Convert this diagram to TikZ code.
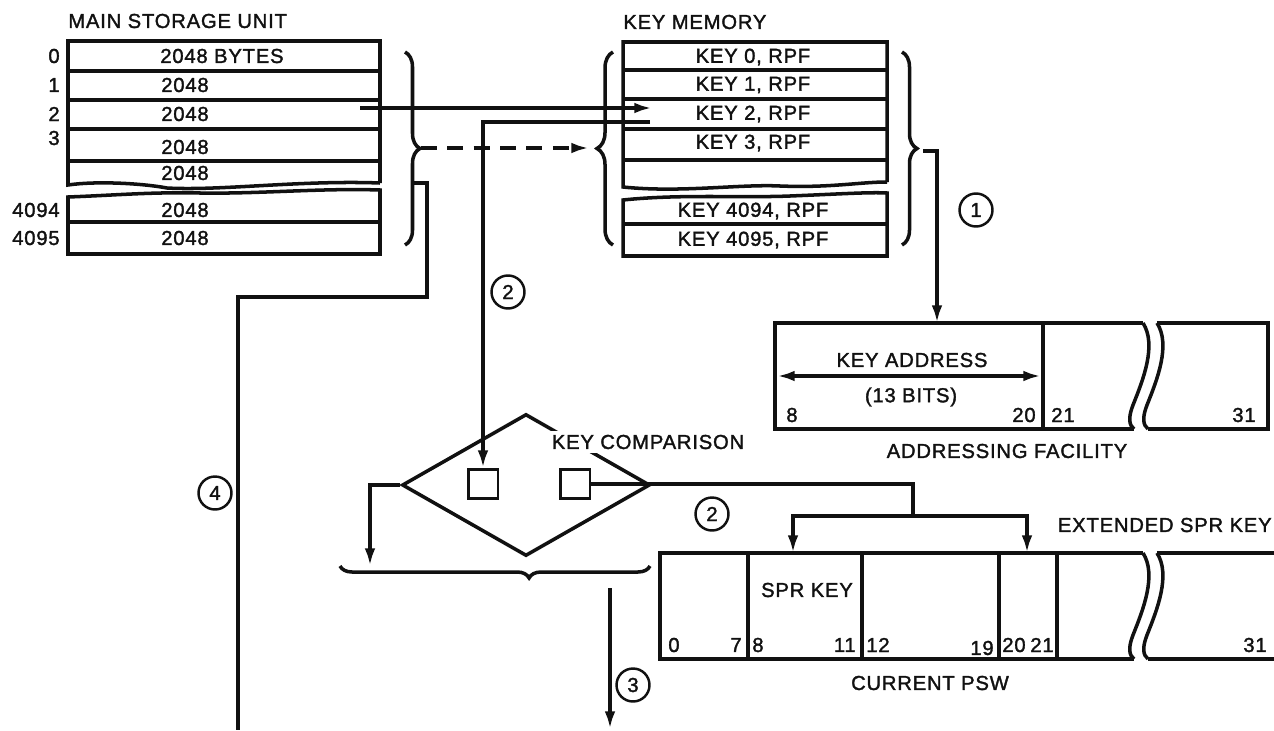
\documentclass[tikz,border=0pt]{standalone}
\usepackage{fontspec}
\setmainfont{Liberation Sans}[LetterSpace=4,FakeBold=1.6]
\usepackage{xcolor}
\usetikzlibrary{arrows.meta,shapes.geometric,decorations.pathreplacing}
\definecolor{SKInk}{HTML}{111111}

\begin{document}
\begin{tikzpicture}[x=0.02cm,y=-0.02cm,
  ln/.style={SKInk,line width=2pt},
  arr/.style={ln,-{Latex[length=10pt,width=6pt]}},
  txt/.style={font=\fontsize{11.5}{13}\selectfont,text=SKInk,inner sep=0pt},
  circ/.style={txt,draw=SKInk,circle,line width=1.4pt,minimum size=0.66cm},
  sq/.style={draw=SKInk,line width=1.7pt,minimum width=0.6cm,minimum height=0.58cm,inner sep=0pt},
  brc/.style={ln,decorate,decoration={brace,amplitude=#1}}]
\path[use as bounding box] (0,0) rectangle (1274,730);
% main storage unit
\node[txt,anchor=west] (msuT) at (68,21) {MAIN STORAGE UNIT};
\draw[ln] (380,183) -- (380,41) -- (68,41) -- (68,185) .. controls (95,181) and (140,183) .. (167,188) .. controls (220,191) and (300,180) .. (380,183);
\foreach \y in {71,100,129,161} \draw[ln] (68,\y) -- (380,\y);
\draw[ln] (68,197) .. controls (120,195) and (150,192) .. (200,193) .. controls (260,194) and (320,188) .. (380,190) -- (380,254) -- (68,254) -- cycle;
\draw[ln] (68,222) -- (380,222);
\node[txt] (m0) at (222,56) {2048 BYTES};
\foreach \n/\y in {1/85,2/114,3/147,4/173,4094/210,4095/238}
  \node[txt] (m\n) at (185,\y) {2048};
\foreach \n/\y in {0/56,1/85,2/114,3/138,4094/210,4095/238}
  \node[txt,anchor=east] (ml\n) at (60,\y) {\n};
% key memory
\node[txt,anchor=west] (kmT) at (623,22) {KEY MEMORY};
\draw[ln] (887,182) -- (887,42) -- (623,42) -- (623,187) .. controls (680,193) and (740,184) .. (780,186) .. controls (830,188) and (860,182) .. (887,182);
\foreach \y in {70,99,129,160} \draw[ln] (623,\y) -- (887,\y);
\draw[ln] (623,200) .. controls (680,194) and (740,198) .. (790,196) .. controls (840,194) and (870,192) .. (887,193) -- (887,256) -- (623,256) -- cycle;
\draw[ln] (623,224) -- (887,224);
\foreach \n/\y in {0/57,1/85,2/114,3/143,4094/211,4095/240}
  \node[txt] (k\n) at (753,\y) {KEY \n, RPF};
% braces
\draw[brc=0.3cm] (405,52) -- (405,245);
\draw[brc=0.32cm] (613,245) -- (613,52);
\draw[brc=0.3cm] (902,52) -- (902,245);
\coordinate (mbr) at (421,148);
\coordinate (kdash) at (589,148);
\coordinate (k1src) at (923,151);
% transfers
\coordinate (m2src) at (360,108);
\coordinate (k2dst) at (652,108);
\coordinate (k2src) at (650,122);
\draw[arr] (m2src) -- (k2dst);
\draw[ln,dashed,dash pattern=on 9pt off 6pt,-{Latex[length=10pt,width=6pt]}] (mbr) -- (kdash);
\coordinate (m4src) at (411,183);
\coordinate (out4) at (238,730);
\draw[ln] (m4src) -- (427,183) -- (427,297) -| (out4);
% key comparison
\node[draw=SKInk,line width=2pt,diamond,minimum width=4.96cm,minimum height=2.84cm,inner sep=0pt] (cmp) at (526,485) {};
\node[txt,anchor=west,fill=white,inner sep=2pt] (cmpT) at (548,442) {KEY COMPARISON};
\node[sq] (sqa) at (483,484) {};
\node[sq] (sqb) at (575,484) {};
\draw[arr] (k2src) -| (sqa.north);
\coordinate (brTgt) at (370,566);
\draw[arr] (cmp.west) -| (brTgt);
\draw[brc=0.24cm,decoration={aspect=0.39}] (650,566) -- (340,566);
\coordinate (c3src) at (610,588);
\coordinate (c3dst) at (610,729);
\draw[arr] (c3src) -- (c3dst);
\coordinate (split) at (913,516);
\coordinate (psw8) at (793,553);
\coordinate (psw20) at (1027,553);
\draw[ln] (sqb.east) -- (sqb.east -| split) -- (split);
\draw[arr] (split) -| (psw8);
\draw[arr] (split) -| (psw20);
% addressing facility
\coordinate (afTop) at (937,323);
\draw[arr] (k1src) -| (afTop);
\draw[ln] (1143,323) -- (775,323) -- (775,429) -- (1134,429);
\draw[ln] (1157,323) -- (1268,323) -- (1268,429) -- (1148,429);
\draw[ln] (1043,323) -- (1043,429);
\coordinate (kaL) at (777,376);
\coordinate (kaR) at (1041,376);
\draw[ln,{Latex[length=10pt,width=6pt]}-{Latex[length=10pt,width=6pt]}] (kaL) -- (kaR);
\node[txt] (kaT) at (912,360) {KEY ADDRESS};
\node[txt] (kaB) at (911,397) {(13 BITS)};
\node[txt,anchor=west] (a8) at (786,415) {8};
\node[txt,anchor=east] (a20) at (1036,415) {20};
\node[txt,anchor=west] (a21) at (1051,415) {21};
\node[txt,anchor=east] (a31) at (1256,415) {31};
\node[txt] (afT) at (1007,451) {ADDRESSING FACILITY};
% current psw
\draw[ln] (1143,553) -- (660,553) -- (660,659) -- (1134,659);
\draw[ln] (1157,553) -- (1274,553);
\draw[ln] (1148,659) -- (1274,659);
\foreach \x in {748,862,999,1057} \draw[ln] (\x,553) -- (\x,659);
\foreach \yt in {323,553} \foreach \d in {0,14}
  \draw[ln] ({1143+\d},\yt) .. controls ({1157+\d},{\yt+22}) and ({1143+\d},{\yt+57}) .. ({1133+\d},{\yt+82}) .. controls ({1128+\d},{\yt+95}) and ({1129+\d},{\yt+102}) .. ({1134+\d},{\yt+106});
\node[txt] (spr) at (807,590) {SPR KEY};
\node[txt,anchor=west] (p0) at (668,645) {0};
\node[txt,anchor=east] (p7) at (742,645) {7};
\node[txt,anchor=west] (p8) at (752,645) {8};
\node[txt,anchor=east] (p11) at (856,645) {11};
\node[txt,anchor=west] (p12) at (866,645) {12};
\node[txt,anchor=east] (p19) at (994,648) {19};
\node[txt,anchor=west] (p20) at (1002,645) {20};
\node[txt,anchor=east] (p21) at (1054,645) {21};
\node[txt,anchor=east] (p31) at (1267,645) {31};
\node[txt] (pswT) at (930,683) {CURRENT PSW};
\node[txt,anchor=east] (ext) at (1272,525) {EXTENDED SPR KEY};
% step numbers
\node[circ] (n1) at (976,210) {1};
\node[circ] (n2a) at (508,292) {2};
\node[circ] (n2b) at (712,514) {2};
\node[circ] (n3) at (633,685) {3};
\node[circ] (n4) at (215,493) {4};
\end{tikzpicture}
\end{document}
